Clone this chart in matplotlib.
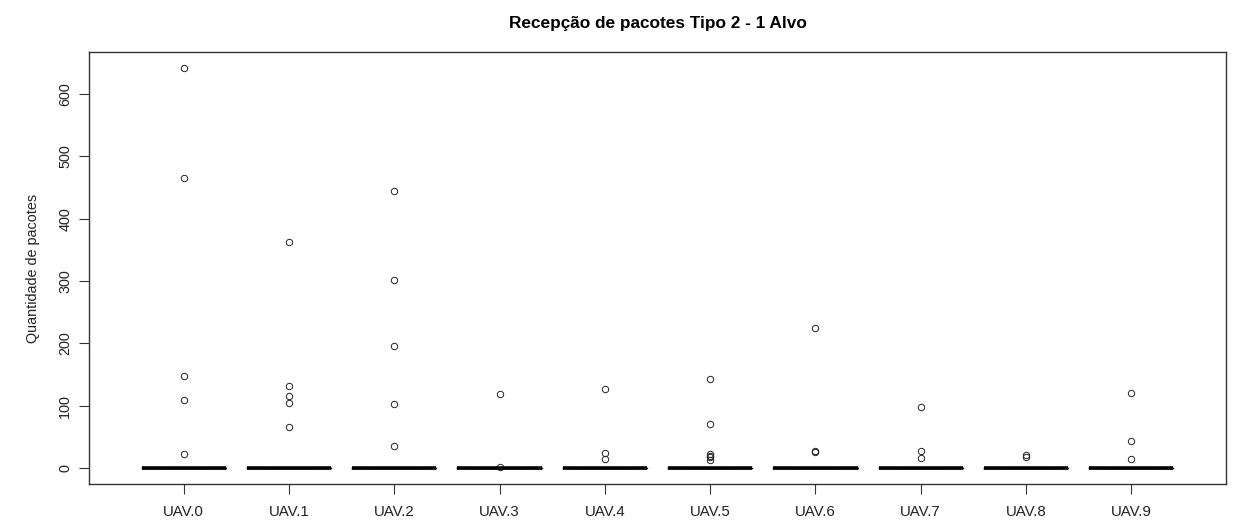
import matplotlib
matplotlib.use("Agg")
import matplotlib.pyplot as plt

plt.rcParams['font.family'] = ['Liberation Sans', 'DejaVu Sans']

uav_labels = ["UAV.0", "UAV.1", "UAV.2", "UAV.3", "UAV.4",
              "UAV.5", "UAV.6", "UAV.7", "UAV.8", "UAV.9"]

# Packets received per run; most runs receive nothing
zero_runs = [45, 45, 45, 45, 45, 45, 45, 45, 45, 45]
nonzero_counts = [
    [642, 466, 148, 109, 23],
    [363, 131, 115, 104, 66],
    [444, 302, 196, 103, 36],
    [118, 1],
    [126, 24, 15],
    [143, 70, 23, 20, 17, 13],
    [225, 27, 26],
    [98, 27, 16],
    [21, 18],
    [120, 43, 14],
]

series = [[0] * z + v for z, v in zip(zero_runs, nonzero_counts)]

W, H, DPI = 1235, 521, 100
fig = plt.figure(figsize=(W / DPI, H / DPI), dpi=DPI)
ax = fig.add_axes([89 / W, 1 - 484 / H, (1226 - 89) / W, (484 - 52) / H])

positions = list(range(1, len(series) + 1))
ax.boxplot(
    series, positions=positions, widths=0.8, whis=1.5,
    boxprops=dict(color="black", linewidth=1),
    medianprops=dict(color="black", linewidth=2.6, solid_capstyle="butt"),
    whiskerprops=dict(color="black", linewidth=1, linestyle="--"),
    capprops=dict(color="black", linewidth=1),
    flierprops=dict(marker="o", markerfacecolor="none", markeredgecolor="#222222",
                    markersize=4.6, markeredgewidth=0.7),
)

all_vals = [v for s in series for v in s]
lo, hi = min(all_vals), max(all_vals)
pad = 0.04 * (hi - lo)
ax.set_ylim(lo - pad, hi + pad)
ax.set_xlim(0.5 - 0.4, len(series) + 0.5 + 0.4)

ax.set_xticks(positions)
ax.set_xticklabels(uav_labels, fontsize=10.8, color="#222222")
ax.set_yticks([0, 100, 200, 300, 400, 500, 600])
ax.set_yticklabels(["0", "100", "200", "300", "400", "500", "600"],
                   fontsize=10.4, rotation=90, va="center", color="#222222")
ax.tick_params(axis="both", direction="out", length=7, width=0.8, color="#333333")
ax.tick_params(axis="x", pad=8)
ax.tick_params(axis="y", pad=5)

for sp in ax.spines.values():
    sp.set_color("#333333")
    sp.set_linewidth(1.0)

ax.set_ylabel("Quantidade de pacotes", fontsize=10.4, color="#222222", labelpad=13)
ax.set_title("Recepção de pacotes Tipo 2 - 1 Alvo", fontsize=12.4,
             fontweight="bold", pad=17)

fig.savefig("out.png", dpi=DPI)
